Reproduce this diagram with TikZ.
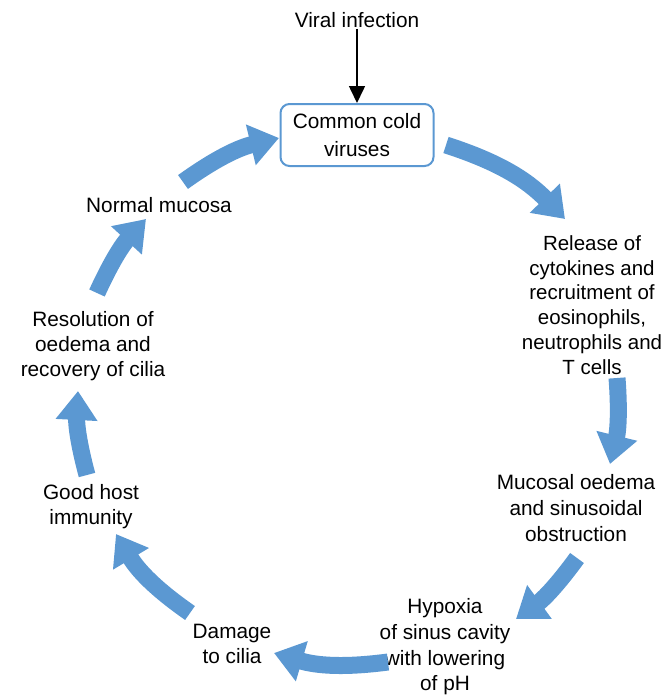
\documentclass[tikz,border=0pt]{standalone}
\usepackage{fontspec}
\setmainfont{Liberation Sans}
\usetikzlibrary{arrows.meta}
\definecolor{cycblue}{RGB}{91,152,210}
\tikzset{
  lbl/.style={align=center, inner sep=1pt, font=\fontsize{20.8}{25.6}\selectfont},
  cyc/.style={draw=cycblue, line width=17pt, -{Triangle[width=40pt,length=29pt]}},
  cbox/.style={draw=cycblue, line width=2pt, rounded corners=9pt, minimum width=153pt, minimum height=62pt, align=center, font=\fontsize{20.8}{28}\selectfont}
}
\begin{document}
\begin{tikzpicture}[x=1pt,y=-1pt]
\useasboundingbox (0,0) rectangle (664,696);
\node[lbl] (viral) at (357,20) {Viral infection};
\node[cbox] (box) at (357,135) {Common cold\\viruses};
\draw[line width=1.6pt, -{Triangle[width=16pt,length=17pt]}] (viral.south) -- (box.north);
\node[lbl] (normal) at (159,205) {Normal mucosa};
\node[lbl, font=\fontsize{20.5}{24.8}\selectfont] (release) at (592,305) {Release of\\cytokines and\\recruitment of\\eosinophils,\\neutrophils and\\T cells};
\node[lbl] (mucosal) at (576,508) {Mucosal oedema\\and sinusoidal\\obstruction};
\node[lbl] (hypoxia) at (445,647) {Hypoxia\\of sinus cavity\\with lowering\\of pH};
\node[lbl] (damage) at (232,644) {Damage\\to cilia};
\node[lbl, font=\fontsize{20.8}{25}\selectfont] (good) at (91,507) {Good host\\immunity};
\node[lbl, font=\fontsize{20.8}{25}\selectfont] (resol) at (93,346) {Resolution of\\oedema and\\recovery of cilia};
\coordinate (a1s) at (183,182); \coordinate (a1e) at (279,138);
\coordinate (a2s) at (446,145); \coordinate (a2e) at (565,219);
\coordinate (a3s) at (617,378); \coordinate (a3e) at (610,464);
\coordinate (a4s) at (577,558); \coordinate (a4e) at (516,619);
\coordinate (a5s) at (388,662); \coordinate (a5e) at (274,653);
\coordinate (a6s) at (190,613); \coordinate (a6e) at (116,534);
\coordinate (a7s) at (87,475);  \coordinate (a7e) at (78,391);
\coordinate (a8s) at (97,293);  \coordinate (a8e) at (146,219);
\draw[cyc] (a1s) to[bend left=11] (a1e);
\draw[cyc] (a2s) to[bend left=14] (a2e);
\draw[cyc] (a3s) to[bend left=9] (a3e);
\draw[cyc] (a4s) to[bend left=9] (a4e);
\draw[cyc] (a5s) to[bend left=12] (a5e);
\draw[cyc] (a6s) to[bend left=12] (a6e);
\draw[cyc] (a7s) to[bend left=9] (a7e);
\draw[cyc] (a8s) to[bend left=9] (a8e);
\end{tikzpicture}
\end{document}
